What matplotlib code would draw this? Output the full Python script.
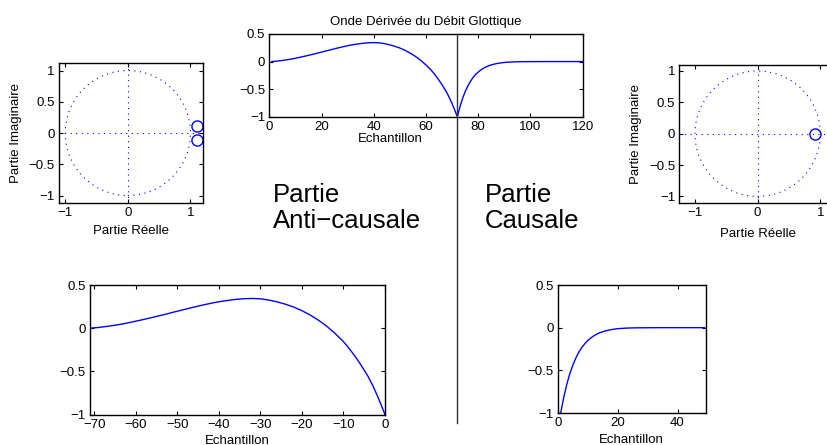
import numpy as np
import matplotlib
matplotlib.use('Agg')
import matplotlib.pyplot as plt
import matplotlib.transforms as mtransforms
from matplotlib.lines import Line2D
from matplotlib.patches import Circle
from matplotlib.ticker import FuncFormatter

plt.rcParams['font.family'] = ['Liberation Sans', 'DejaVu Sans']
plt.rcParams['font.size'] = 9.5

# anti-causal part (samples before the GCI)
ac_n = [-71, -69, -67, -65, -63, -61, -59, -57, -55, -53, -51, -49, -47, -45,
        -43, -41, -39, -38, -36, -34, -32, -30, -28, -26, -24, -22, -20, -18,
        -16, -14, -12, -10, -9, -8, -7, -6, -5, -4, -3, -2, -1, 0]
ac_v = [0.0, 0.008, 0.020, 0.034, 0.050, 0.070, 0.091, 0.113, 0.136, 0.159,
        0.184, 0.208, 0.232, 0.255, 0.277, 0.297, 0.313, 0.320, 0.333, 0.341,
        0.344, 0.340, 0.326, 0.305, 0.278, 0.245, 0.203, 0.152, 0.092, 0.022,
        -0.062, -0.156, -0.213, -0.275, -0.340, -0.410, -0.487, -0.565, -0.660,
        -0.765, -0.880, -1.0]

# causal part (return phase)
c_n = [1, 2, 3, 4, 5, 6, 7, 8, 9, 10, 11, 12, 13, 14, 16, 18, 20, 23, 26, 30,
       35, 49]
c_v = [-1.0, -0.82, -0.67, -0.545, -0.445, -0.36, -0.29, -0.235, -0.19, -0.152,
       -0.122, -0.097, -0.077, -0.060, -0.037, -0.022, -0.012, -0.005, -0.002,
       -0.001, 0.0, 0.0]

# zeros of each part
zl_re = [1.11, 1.11]
zl_im = [0.11, -0.11]
zr_re = [0.92]
zr_im = [0.0]

gci = 72
W, H = 827, 445
dots = (0, (1, 4))


def box(l, t, r, b):
    return [l / W, 1 - b / H, (r - l) / W, (b - t) / H]


fmt = FuncFormatter(lambda v, p: ('%g' % v).replace('-', '\u2212'))


def style(ax):
    ax.tick_params(direction='in', top=True, right=True, length=3, width=0.8, pad=3)
    ax.xaxis.set_major_formatter(fmt)
    ax.yaxis.set_major_formatter(fmt)
    for s in ax.spines.values():
        s.set_linewidth(1.0)


def zplane(ax, re, im, xlim, ylim):
    ax.add_patch(Circle((0, 0), 1, fill=False, ls=dots, ec='blue', lw=0.8))
    ax.axhline(0, ls=dots, color='blue', lw=0.8)
    ax.axvline(0, ls=dots, color='blue', lw=0.8)
    ax.plot(re, im, 'o', mfc='none', mec='blue', ms=8, mew=1)
    ax.set_xlim(xlim)
    ax.set_ylim(ylim)
    ax.set_xticks([-1, 0, 1])
    ax.set_yticks([-1, -0.5, 0, 0.5, 1])
    ax.set_xlabel('Partie Réelle')
    ax.set_ylabel('Partie Imaginaire')
    style(ax)


fig = plt.figure(figsize=(W / 100, H / 100), dpi=100)

ax_zl = fig.add_axes(box(59, 63, 203, 203))
zplane(ax_zl, zl_re, zl_im, (-1.1, 1.2), (-1.12, 1.12))
ax_zl.xaxis.set_label_coords(0.5, -0.155)
ax_zl.yaxis.set_label_coords(-0.257, 0.5)

ax_zr = fig.add_axes(box(679.3, 64.7, 836, 202.7))
zplane(ax_zr, zr_re, zr_im, (-1.25, 1.25), (-1.1, 1.1))
ax_zr.xaxis.set_label_coords(0.5, -0.18)
ax_zr.yaxis.set_label_coords(-0.238, 0.5)

# full glottal flow derivative
ax_top = fig.add_axes(box(269.3, 34, 582.7, 116.7))
x_full = list(np.array(ac_n) + gci) + list(np.array(c_n) + gci - 1)
v_full = ac_v + c_v
ax_top.plot(x_full, v_full, color='blue', lw=1)
ax_top.set_xlim(0, 120)
ax_top.set_ylim(-1, 0.5)
ax_top.set_xticks(range(0, 121, 20))
ax_top.set_yticks([-1, -0.5, 0, 0.5])
ax_top.set_title('Onde Dérivée du Débit Glottique', fontsize=9.5, pad=6.5)
ax_top.set_xlabel('Echantillon')
ax_top.xaxis.set_label_coords(0.385, -0.2)
style(ax_top)

ax_bl = fig.add_axes(box(90, 285, 385, 414.5))
ax_bl.plot(ac_n, ac_v, color='blue', lw=1)
ax_bl.set_xlim(-71, 0)
ax_bl.set_ylim(-1, 0.5)
ax_bl.set_xticks(range(-70, 1, 10))
ax_bl.set_yticks([-1, -0.5, 0, 0.5])
ax_bl.set_xlabel('Echantillon')
ax_bl.xaxis.set_label_coords(0.5, -0.16)
style(ax_bl)

ax_br = fig.add_axes(box(557.7, 285, 705.7, 413))
ax_br.plot(c_n, c_v, color='blue', lw=1)
ax_br.set_xlim(0, 49.4)
ax_br.set_ylim(-1, 0.5)
ax_br.set_xticks([0, 20, 40])
ax_br.set_yticks([-1, -0.5, 0, 0.5])
ax_br.set_xlabel('Echantillon')
ax_br.xaxis.set_label_coords(0.5, -0.165)
style(ax_br)

# separator at the glottal closure instant
trans = mtransforms.blended_transform_factory(ax_top.transData, fig.transFigure)
fig.add_artist(Line2D([gci, gci], [1 - 34 / H, 1 - 423 / H], transform=trans,
                      color='#333333', lw=1))

fig.text(272.7 / W, 1 - 183 / H, 'Partie\nAnti\u2212causale', fontsize=18.5,
         va='top', ha='left', linespacing=1.12)
fig.text(485 / W, 1 - 183 / H, 'Partie\nCausale', fontsize=18.5,
         va='top', ha='left', linespacing=1.12)

fig.savefig('out.png', dpi=100)
